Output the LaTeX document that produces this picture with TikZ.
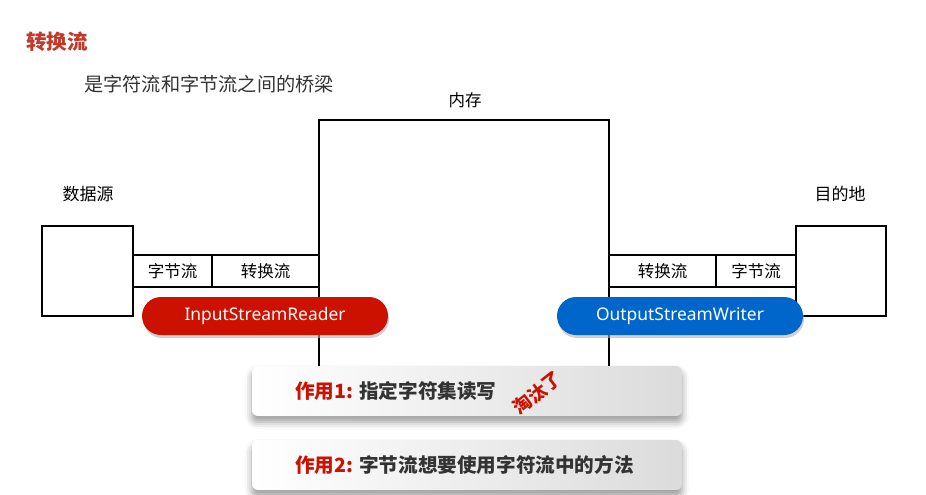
\documentclass[tikz,border=0pt]{standalone}
\usepackage{fontspec}
\setmainfont{Noto Sans CJK SC}
\newfontfamily\latinf{Noto Sans}
\usetikzlibrary{shadows,shadows.blur}
\definecolor{titlered}{HTML}{C0392B}
\definecolor{pillred}{HTML}{CC1100}
\definecolor{pillblue}{HTML}{0066CC}
\definecolor{txtdark}{HTML}{333333}
\begin{document}
\begin{tikzpicture}[x=1pt,y=-1pt,
  frame/.style={draw=black,line width=2pt},
  lbl/.style={font=\fontsize{16.5}{18}\selectfont,text=black,inner sep=0pt},
  pill/.style={rounded corners=19pt,minimum width=246pt,minimum height=38pt,inner sep=0pt,
     text=white,font=\latinf\fontsize{17.4}{19}\selectfont,
     drop shadow={shadow xshift=1pt,shadow yshift=-3pt,fill=black!30,opacity=0.6}},
  card/.style={rounded corners=6pt,minimum width=430pt,minimum height=50pt,inner sep=0pt,
     left color=white,right color=black!14,
     blur shadow={shadow xshift=0pt,shadow yshift=-6pt,shadow blur radius=7pt,shadow opacity=40}},
  cardtext/.style={anchor=west,inner sep=0pt,font=\bfseries\fontsize{19.6}{21}\selectfont,text=txtdark}
]
\useasboundingbox (0,0) rectangle (926,495);
% texts
\node[anchor=center,font=\bfseries\fontsize{20.5}{22}\selectfont,text=titlered] (title) at (57,42) {转换流};
\node[anchor=west,inner sep=0pt,font=\fontsize{19.2}{21}\selectfont,text=txtdark] (sub) at (84,84) {是字符流和字节流之间的桥梁};
\node[lbl] (mem) at (465,100) {内存};
\node[lbl,font=\fontsize{17}{19}\selectfont] (src) at (88,194) {数据源};
\node[lbl,font=\fontsize{17}{19}\selectfont] (dst) at (840,194) {目的地};
% memory
\draw[frame] (319,366) -- (319,120) -- (609,120) -- (609,366);
% source/destination boxes
\draw[frame] (42,226) rectangle (133,316);
\draw[frame] (796,226) rectangle (886,316);
% stream boxes left
\draw[frame] (133,255) rectangle (212,287);
\draw[frame] (212,255) rectangle (319,287);
\node[lbl] (lb) at (172.5,271) {字节流};
\node[lbl] (lc) at (265.5,271) {转换流};
% stream boxes right
\draw[frame] (609,255) rectangle (716,287);
\draw[frame] (716,255) rectangle (796,287);
\node[lbl] (rc) at (662.5,271) {转换流};
\node[lbl] (rb) at (756,271) {字节流};
% pills
\node[pill,fill=pillred] (isr) at (265,316) {InputStreamReader};
\node[pill,fill=pillblue] (osw) at (680,316) {OutputStreamWriter};
% cards
\node[card] (c1) at (467,391) {};
\node[card] (c2) at (467,465) {};
\node[cardtext] (t1) at (295,391) {\textcolor{pillred}{作用1:} 指定字符集读写};
\node[cardtext] (t2) at (295,465) {\textcolor{pillred}{作用2:} 字节流想要使用字符流中的方法};
\node[rotate=38,inner sep=0pt,font=\bfseries\fontsize{18.5}{20}\selectfont,text=pillred] (tt) at (537,393) {淘汰了};
\end{tikzpicture}
\end{document}
